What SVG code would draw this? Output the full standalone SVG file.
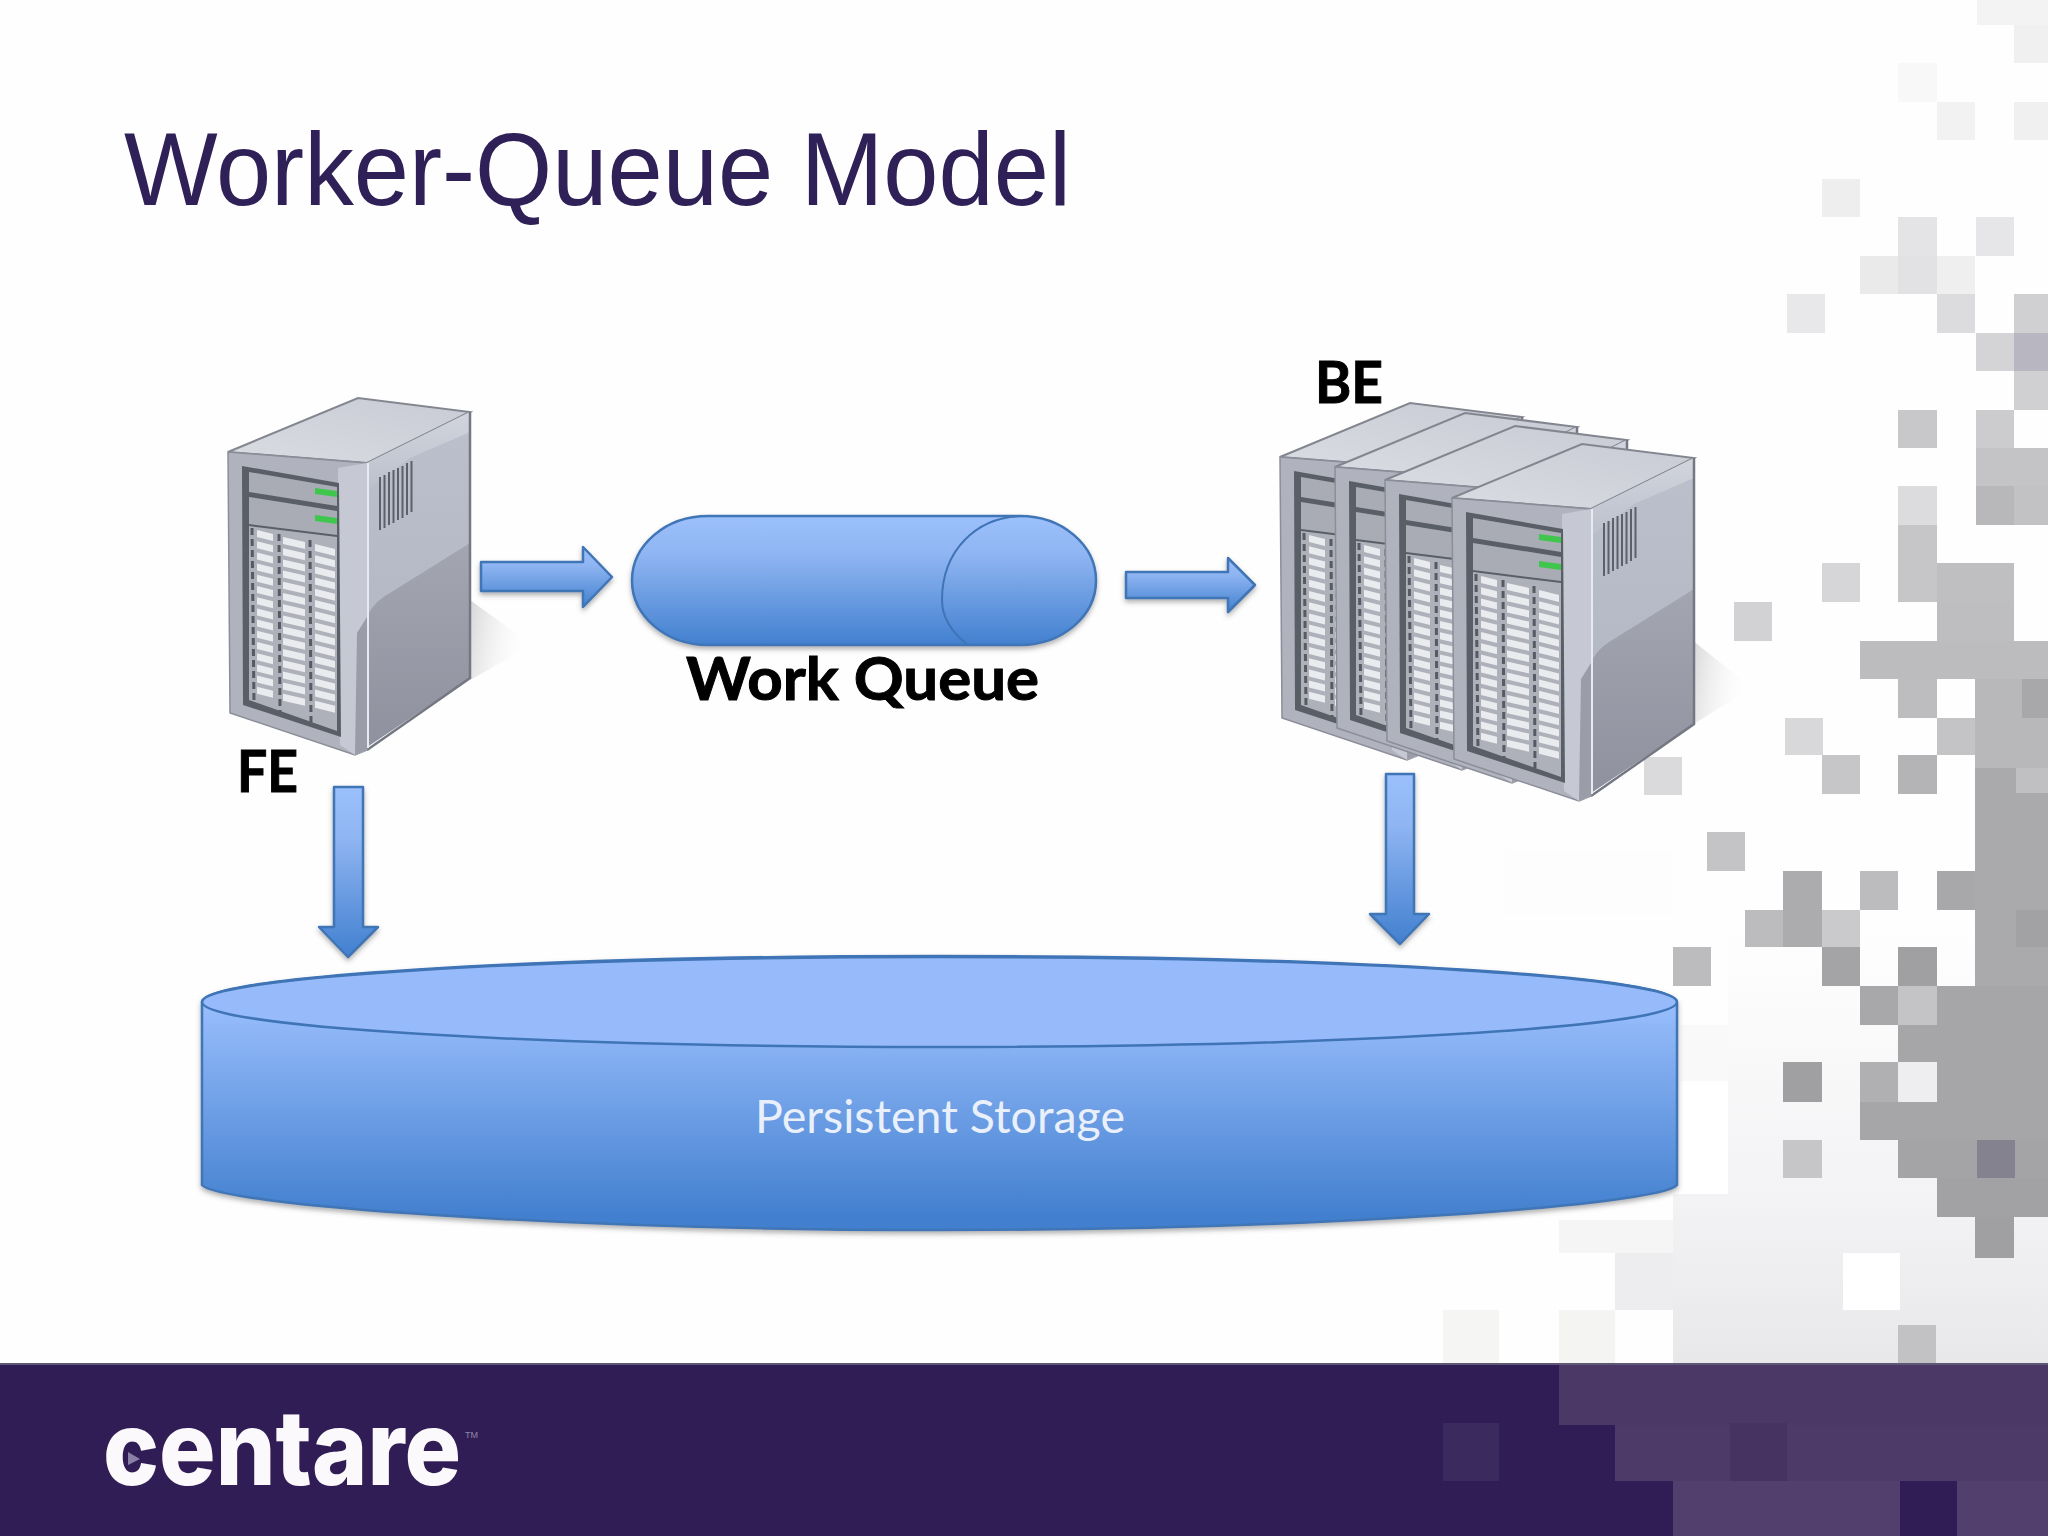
<svg xmlns="http://www.w3.org/2000/svg" width="2048" height="1536" viewBox="0 0 2048 1536">
<style>
.blue{stroke:#3f74b6;stroke-width:2.5;stroke-linejoin:round}
.label{font-family:"Lato","Liberation Sans",sans-serif;font-weight:700;fill:#000;stroke:#000;stroke-width:1}
.vent{stroke:#5c606b;stroke-width:2}
.slot{fill:#e9ebef}
.tick{stroke:#565a63;stroke-width:3;stroke-dasharray:7 4;fill:none}
.led{fill:#3fc64c}
</style>
<defs>
<linearGradient id="bl" x1="0" y1="0" x2="0" y2="1"><stop offset="0" stop-color="#9bc0fb"/><stop offset=".3" stop-color="#8fb5f2"/><stop offset="1" stop-color="#4280cf"/></linearGradient>
<linearGradient id="st" gradientUnits="userSpaceOnUse" x1="0" y1="1010" x2="0" y2="1215"><stop offset="0" stop-color="#96bcfb"/><stop offset="1" stop-color="#4380cf"/></linearGradient>
<linearGradient id="tg" x1="0" y1="1" x2="1" y2="0"><stop offset="0" stop-color="#dadce3"/><stop offset="1" stop-color="#c8cbd4"/></linearGradient>
<linearGradient id="sd" x1="0" y1="0" x2="0" y2="1"><stop offset="0" stop-color="#bcc0cc"/><stop offset="1" stop-color="#b0b3c0"/></linearGradient>
<linearGradient id="sh" x1="0" y1="0" x2="1" y2="0.2"><stop offset="0" stop-color="#d6d6d8"/><stop offset="1" stop-color="#fdfdfd" stop-opacity="0"/></linearGradient>
<linearGradient id="sl" x1="0" y1="0" x2="0" y2="1"><stop offset="0" stop-color="#a3a6b1"/><stop offset="1" stop-color="#8f929e"/></linearGradient>
<linearGradient id="hl" x1="0" y1="0" x2="0" y2="1"><stop offset="0" stop-color="#d2d5dd"/><stop offset="1" stop-color="#bcc0cc"/></linearGradient>
<linearGradient id="fadeT" gradientUnits="userSpaceOnUse" x1="0" y1="930" x2="0" y2="1190"><stop offset="0" stop-color="#fefefe"/><stop offset="1" stop-color="#f3f3f5"/></linearGradient>
<linearGradient id="fadeR" gradientUnits="userSpaceOnUse" x1="0" y1="1194" x2="0" y2="1363"><stop offset="0" stop-color="#f3f3f5"/><stop offset="1" stop-color="#e8e8ea"/></linearGradient>
<filter id="ds" x="-10%" y="-10%" width="120%" height="125%"><feDropShadow dx="0" dy="3" stdDeviation="2.5" flood-color="#555" flood-opacity=".45"/></filter>
<g id="row">
<polygon class="slot" points="257,0 273,4 273,11 257,7"/>
<polygon class="slot" points="283,7 305,12 305,19 283,14"/>
<polygon class="slot" points="315,14 335,19 335,26 315,21"/>
</g>
<g id="srv">
<polygon points="228,452 358,398 470,412 367,463" fill="url(#tg)" stroke="#83868f" stroke-width="2"/>
<polygon points="367,463 470,412 470,678 367,747" fill="url(#sd)"/>
<polygon points="367,463 470,412 470,432 410,458 367,490" fill="url(#hl)"/>
<path d="M367,617C372,606 378,600 390,593L470,543V678L367,747Z" fill="url(#sl)"/>
<polyline points="470,412 470,678 367,750" fill="none" stroke="#757883" stroke-width="2.5"/>
<polygon points="228,452 367,463 367,750 355,755 230,713" fill="#b0b3be" stroke="#8b8e98" stroke-width="1.5"/>
<polygon points="338,468 367,463 367,750 355,755 340,745" fill="#c6c9d3"/>
<polygon points="367,617 357,633 355,755 367,750" fill="#9a9da8"/>
<line x1="368" y1="463" x2="368" y2="748" stroke="#e8eaf0" stroke-width="2"/>
<polygon points="242,466 339,483 341,737 243,705" fill="#5a5f67"/>
<polygon points="249,472 337,487 337,506 249,492" fill="#a9acb4"/>
<polygon points="249,497 337,511 337,535 249,524" fill="#a9acb4"/>
<polygon points="249,526 337,537 337,731 249,700" fill="#aeb1b9"/>
<polygon class="led" points="315,488 337,491 337,497 315,494"/>
<polygon class="led" points="315,515 337,518 337,524 315,521"/>
<line class="tick" x1="252" y1="528" x2="254" y2="703"/>
<line class="tick" x1="279" y1="534" x2="280" y2="712"/>
<line class="tick" x1="310" y1="540" x2="311" y2="722"/>
<use href="#row" y="530"/><use href="#row" y="541.2"/><use href="#row" y="552.4"/><use href="#row" y="563.6"/>
<use href="#row" y="574.8"/><use href="#row" y="586"/><use href="#row" y="597.2"/><use href="#row" y="608.4"/>
<use href="#row" y="619.6"/><use href="#row" y="630.8"/><use href="#row" y="642"/><use href="#row" y="653.2"/>
<use href="#row" y="664.4"/><use href="#row" y="675.6"/><use href="#row" y="686.8"/>
<g class="vent"><line x1="380" y1="477" x2="380" y2="530"/><line x1="384.500" y1="475" x2="384.500" y2="528"/><line x1="389" y1="472" x2="389" y2="525"/><line x1="393.500" y1="470" x2="393.500" y2="523"/><line x1="398" y1="468" x2="398" y2="520"/><line x1="402.500" y1="466" x2="402.500" y2="518"/><line x1="407" y1="463" x2="407" y2="515"/><line x1="411.500" y1="461" x2="411.500" y2="512"/></g>
</g>
</defs>

<rect width="2048" height="1536" fill="#fefefe"/>

<g id="background">
<rect x="1505" y="850" width="167" height="65" fill="#fdfdfd"/>
<rect x="1728" y="930" width="320" height="264" fill="url(#fadeT)"/>
<rect x="1680" y="1025" width="48" height="56" fill="#f9f9fa"/>
<rect x="1680" y="1081" width="48" height="113" fill="#ffffff"/>
<rect x="1673" y="1194" width="375" height="169" fill="url(#fadeR)"/>
<rect x="1559" y="1220" width="114" height="33" fill="#f5f5f6"/>
<rect x="1615" y="1253" width="58" height="57" fill="#ededef"/>
<rect x="1843" y="1253" width="57" height="57" fill="#ffffff"/>
<rect x="1898" y="1325" width="38" height="38" fill="#c2c2c4"/>
<rect x="1443" y="1310" width="56" height="53" fill="#f5f5f3"/>
<rect x="1559" y="1310" width="56" height="53" fill="#f4f4f2"/>
<rect x="1977" y="0" width="71" height="25" fill="#f3f3f3"/>
<rect x="2014" y="25" width="34" height="38" fill="#f0f0f0"/>
<rect x="1898" y="63" width="39" height="39" fill="#f8f8f8"/>
<rect x="1937" y="102" width="38" height="38" fill="#f2f2f2"/>
<rect x="2014" y="102" width="34" height="38" fill="#f0f0f0"/>
<rect x="1822" y="179" width="38" height="38" fill="#eeeeee"/>
<rect x="1898" y="217" width="39" height="39" fill="#e4e4e6"/>
<rect x="1976" y="217" width="38" height="39" fill="#e6e6e8"/>
<rect x="1860" y="256" width="38" height="38" fill="#eaeaea"/>
<rect x="1898" y="256" width="39" height="38" fill="#e2e2e4"/>
<rect x="1937" y="256" width="38" height="38" fill="#efefef"/>
<rect x="1787" y="294" width="38" height="39" fill="#e8e8ea"/>
<rect x="1937" y="294" width="38" height="39" fill="#dcdcde"/>
<rect x="2014" y="294" width="34" height="39" fill="#d0d0d2"/>
<rect x="1976" y="333" width="38" height="38" fill="#d4d4d6"/>
<rect x="2014" y="333" width="34" height="38" fill="#b8b6c0"/>
<rect x="2014" y="371" width="34" height="39" fill="#d0d0d2"/>
<rect x="1898" y="410" width="39" height="38" fill="#c8c8ca"/>
<rect x="1976" y="410" width="38" height="38" fill="#ccccce"/>
<rect x="1976" y="448" width="72" height="38" fill="#c4c4c6"/>
<rect x="1898" y="486" width="39" height="39" fill="#dcdcde"/>
<rect x="1976" y="486" width="38" height="39" fill="#b8b8ba"/>
<rect x="2014" y="486" width="34" height="39" fill="#c2c2c4"/>
<rect x="1898" y="525" width="39" height="77" fill="#c6c6c8"/>
<rect x="1822" y="563" width="38" height="39" fill="#d6d6d8"/>
<rect x="1937" y="563" width="77" height="39" fill="#bfbfc1"/>
<rect x="1734" y="602" width="38" height="39" fill="#d2d2d4"/>
<rect x="1937" y="602" width="77" height="39" fill="#bebec0"/>
<rect x="1860" y="641" width="188" height="38" fill="#bcbcbe"/>
<rect x="1898" y="679" width="39" height="39" fill="#bdbdbf"/>
<rect x="1975" y="679" width="73" height="89" fill="#b8b8ba"/>
<rect x="2022" y="679" width="26" height="39" fill="#a8a8aa"/>
<rect x="1644" y="757" width="38" height="38" fill="#dadadc"/>
<rect x="1785" y="718" width="38" height="37" fill="#d8d8da"/>
<rect x="1937" y="718" width="38" height="37" fill="#c4c4c6"/>
<rect x="1822" y="755" width="38" height="39" fill="#c6c6c8"/>
<rect x="1898" y="755" width="39" height="39" fill="#b4b4b6"/>
<rect x="1975" y="768" width="73" height="218" fill="#aaaaac"/>
<rect x="2016" y="768" width="32" height="25" fill="#c0c0c2"/>
<rect x="2016" y="910" width="32" height="37" fill="#a2a2a4"/>
<rect x="1707" y="832" width="38" height="39" fill="#c4c4c6"/>
<rect x="1783" y="871" width="39" height="76" fill="#acacae"/>
<rect x="1745" y="910" width="38" height="37" fill="#bcbcbe"/>
<rect x="1822" y="910" width="38" height="37" fill="#cacacc"/>
<rect x="1860" y="871" width="38" height="39" fill="#bcbcbe"/>
<rect x="1937" y="871" width="38" height="39" fill="#a8a8aa"/>
<rect x="1822" y="947" width="38" height="39" fill="#a4a4a6"/>
<rect x="1673" y="947" width="38" height="39" fill="#bcbcbe"/>
<rect x="1898" y="947" width="39" height="39" fill="#a0a0a2"/>
<rect x="1860" y="986" width="38" height="39" fill="#a8a8aa"/>
<rect x="1898" y="986" width="39" height="39" fill="#c4c4c6"/>
<rect x="1937" y="986" width="111" height="39" fill="#a6a6a8"/>
<rect x="1898" y="1025" width="150" height="37" fill="#a6a6a8"/>
<rect x="1783" y="1062" width="39" height="40" fill="#a0a0a2"/>
<rect x="1860" y="1062" width="38" height="40" fill="#b0b0b2"/>
<rect x="1898" y="1062" width="39" height="40" fill="#eeeef0"/>
<rect x="1937" y="1062" width="111" height="40" fill="#a6a6a8"/>
<rect x="1860" y="1102" width="188" height="38" fill="#a6a6a8"/>
<rect x="1783" y="1140" width="39" height="38" fill="#c6c6c8"/>
<rect x="1898" y="1140" width="150" height="38" fill="#a4a4a6"/>
<rect x="1977" y="1140" width="38" height="38" fill="#84828f"/>
<rect x="1937" y="1178" width="111" height="39" fill="#a2a2a4"/>
<rect x="1975" y="1217" width="39" height="41" fill="#a0a0a2"/>
</g>

<g id="footer">
<rect y="1363" width="2048" height="173" fill="#301d55"/>
<rect x="1559" y="1365" width="489" height="60" fill="#4c3866"/>
<rect x="1615" y="1425" width="433" height="56" fill="#4e3a68"/>
<rect x="1673" y="1481" width="375" height="55" fill="#533f6d"/>
<rect x="1443" y="1423" width="56" height="58" fill="#3a2a5e"/>
<rect x="1730" y="1423" width="57" height="58" fill="#473361"/>
<rect x="1900" y="1481" width="57" height="55" fill="#301d55"/>
<rect y="1363" width="2048" height="2" fill="#5e5876"/>
</g>

<g id="logo">
<text x="103" y="1485" font-family="Inter,Lato,'Liberation Sans',sans-serif" font-weight="800" font-size="104" fill="#fbf9fb" textLength="358" lengthAdjust="spacingAndGlyphs">centare</text>
<polygon points="128,1452 140,1459 128,1465" fill="#8a7fa5"/>
<text x="465" y="1438" font-family="Liberation Sans,sans-serif" font-size="9" fill="#8f87a6">TM</text>
</g>

<text id="title" x="124" y="205" font-family="Liberation Sans,Arial,sans-serif" font-size="104" fill="#2f2157" textLength="947" lengthAdjust="spacingAndGlyphs">Worker-Queue Model</text>

<g id="node-fe">
<polygon points="470,600 532,645 470,680" fill="url(#sh)"/>
<use href="#srv"/>
<text class="label" x="237" y="792" font-size="58" textLength="61" lengthAdjust="spacingAndGlyphs">FE</text>
</g>

<g id="node-be">
<polygon points="1692,640 1752,688 1692,725" fill="url(#sh)"/>
<use href="#srv" x="1052" y="5"/>
<use href="#srv" x="1107" y="15"/>
<use href="#srv" x="1157" y="28"/>
<use href="#srv" x="1224" y="46"/>
<text class="label" x="1315" y="403" font-size="58" textLength="68" lengthAdjust="spacingAndGlyphs">BE</text>
</g>

<g id="node-queue">
<path class="blue" d="M708,516H1020A76,64.500 0 0 1 1020,645H708A76,64.500 0 0 1 708,516Z" fill="url(#bl)" filter="url(#ds)"/>
<path d="M1024,516C975,516 942,552 942,600C942,620 955,635 968,645" fill="none" stroke="#3f74b6" stroke-width="2"/>
<text class="label" x="686" y="700" font-size="60" textLength="353" lengthAdjust="spacingAndGlyphs">Work Queue</text>
</g>

<g id="node-storage">
<path class="blue" d="M202,1002A737.500,46 0 0 1 1677,1002V1185C1660,1205 1320,1230 939.500,1230C560,1230 220,1205 202,1185Z" fill="url(#st)" filter="url(#ds)"/>
<ellipse class="blue" cx="939.500" cy="1002" rx="737.500" ry="45" fill="#97bbfa"/>
<text x="940" y="1133" text-anchor="middle" font-family="Lato,'Liberation Sans',sans-serif" font-size="46" fill="#e9f0fb" textLength="370" lengthAdjust="spacingAndGlyphs">Persistent Storage</text>
</g>

<g id="connectors">
<path class="blue" fill="url(#bl)" filter="url(#ds)" d="M481,562H583V547L612,577L583,607V591H481Z"/>
<path class="blue" fill="url(#bl)" filter="url(#ds)" d="M1126,572H1228V558L1255,585L1228,612V598H1126Z"/>
<path class="blue" fill="url(#bl)" filter="url(#ds)" d="M334,787H363V927H378L348,957L319,927H334Z"/>
<path class="blue" fill="url(#bl)" filter="url(#ds)" d="M1386,774H1414V914H1429L1400,944L1370,914H1386Z"/>
</g>
</svg>
